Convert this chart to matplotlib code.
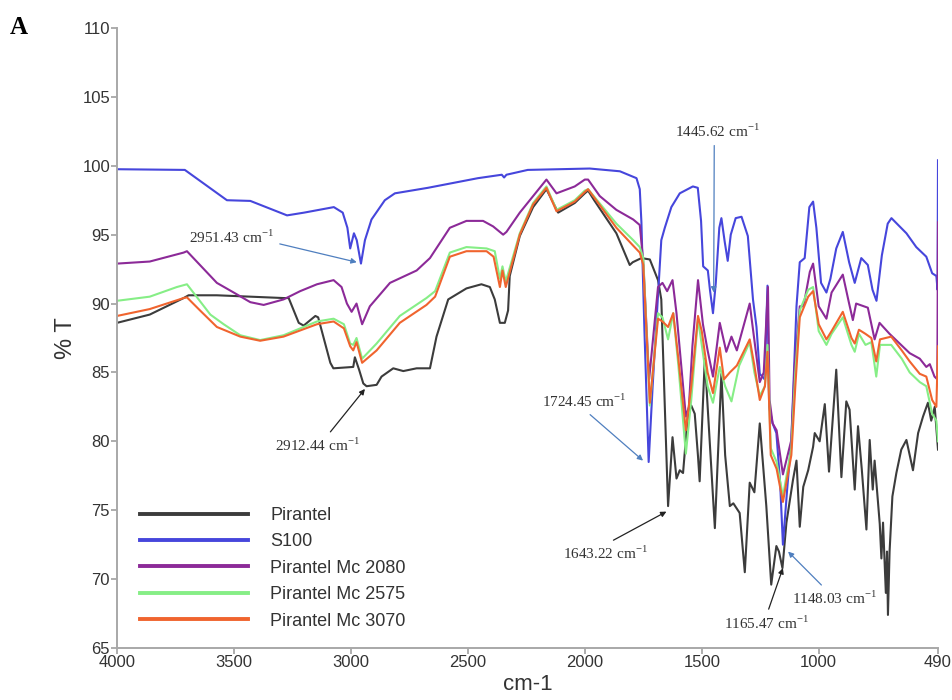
import matplotlib
matplotlib.use("Agg")
import matplotlib.pyplot as plt

# ---- spectra: wavenumber (cm-1) and transmittance (%T) ----
wn_pirantel = [4000, 3860, 3715, 3694, 3573, 3288, 3266, 3223, 3202, 3152, 3140, 3088, 3075,
               2990, 2983, 2965, 2947, 2933, 2890, 2869, 2819, 2776, 2719, 2662, 2634, 2584,
               2506, 2442, 2406, 2385, 2363, 2342, 2328, 2321, 2278, 2221, 2164, 2114, 2043,
               2000, 1986, 1960, 1865, 1808, 1795, 1758, 1722, 1694, 1687, 1673, 1644, 1625,
               1608, 1594, 1580, 1559, 1545, 1530, 1516, 1509, 1487, 1444, 1416, 1400, 1380,
               1365, 1338, 1316, 1295, 1275, 1252, 1224, 1203, 1181, 1170, 1155, 1138, 1110,
               1095, 1081, 1066, 1045, 1024, 1017, 996, 974, 956, 925, 903, 882, 868, 846,
               832, 816, 796, 782, 769, 761, 739, 732, 725, 713, 708, 704, 697, 685, 668, 647,
               625, 597, 575, 554, 533, 519, 504, 490]
t_pirantel = [88.6, 89.2, 90.4, 90.6, 90.6, 90.4, 90.4, 88.6, 88.4, 89.1, 89.0, 85.7, 85.3,
              85.4, 86.1, 85.2, 84.2, 84.0, 84.1, 84.7, 85.3, 85.1, 85.3, 85.3, 87.6, 90.3,
              91.1, 91.4, 91.2, 90.3, 88.6, 88.6, 89.5, 92.0, 94.9, 97.0, 98.3, 96.6, 97.3,
              98.0, 98.2, 97.5, 95.1, 92.8, 93.0, 93.3, 93.2, 92.0, 91.7, 90.3, 75.3, 80.3,
              77.3, 77.9, 77.7, 82.0, 82.6, 82.0, 78.9, 77.1, 86.0, 73.7, 84.9, 79.0, 75.3,
              75.5, 74.8, 70.5, 77.0, 76.3, 81.3, 75.3, 69.6, 72.4, 72.0, 70.8, 74.1, 77.2,
              78.6, 73.8, 76.7, 77.9, 79.6, 80.6, 80.0, 82.7, 77.8, 85.2, 77.4, 82.9, 82.3, 76.5,
              81.1, 78.0, 73.6, 80.1, 76.5, 78.6, 74.0, 71.5, 74.1, 69.0, 72.0, 67.4, 72.0, 76.0,
              77.7, 79.4, 80.1, 77.9, 80.6, 81.8, 82.8, 81.5, 82.5, 79.4]

wn_s100 = [4000, 3710, 3530, 3430, 3273, 3200, 3073, 3035, 3015, 3003, 2987, 2975, 2957, 2940,
           2912, 2855, 2812, 2671, 2457, 2355, 2345, 2335, 2244, 1979, 1850, 1779, 1765, 1758,
           1745, 1727, 1710, 1694, 1673, 1658, 1630, 1594, 1538, 1517, 1503, 1494, 1474, 1465,
           1452, 1440, 1425, 1416, 1402, 1389, 1376, 1355, 1330, 1303, 1281, 1266, 1252, 1231,
           1219, 1212, 1197, 1181, 1165, 1153, 1135, 1117, 1095, 1081, 1060, 1040, 1024, 1010,
           990, 967, 950, 925, 897, 870, 846, 818, 790, 770, 753, 730, 705, 689, 660, 625, 583,
           540, 515, 497, 492, 490]
t_s100 = [99.75, 99.7, 97.5, 97.45, 96.4, 96.6, 97.0, 96.6, 95.5, 94.0, 95.1, 94.6, 92.9, 94.6,
          96.1, 97.5, 98.0, 98.4, 99.1, 99.35, 99.15, 99.35, 99.7, 99.8, 99.6, 99.1, 98.3, 95.9,
          88.0, 78.5, 84.0, 88.6, 94.6, 95.5, 97.0, 98.0, 98.5, 98.4, 96.0, 92.7, 92.4, 91.0,
          89.3, 91.5, 95.5, 96.2, 94.5, 93.1, 95.0, 96.2, 96.3, 94.9, 90.3, 88.3, 84.9, 84.5,
          91.3, 82.5, 81.3, 80.6, 77.0, 72.5, 76.5, 80.1, 89.8, 93.0, 93.3, 97.0, 97.4, 95.5,
          91.5, 90.8, 91.8, 94.0, 95.2, 93.0, 91.5, 93.3, 92.8, 91.0, 90.2, 93.5, 95.8, 96.2,
          95.7, 95.1, 94.1, 93.4, 92.2, 92.0, 91.0, 100.4]

wn_mc2080 = [4000, 3860, 3715, 3701, 3573, 3501, 3430, 3373, 3288, 3217, 3145, 3074, 3040, 3017,
             2997, 2976, 2952, 2919, 2833, 2719, 2662, 2577, 2506, 2435, 2392, 2349, 2335, 2278,
             2221, 2164, 2121, 2043, 2000, 1986, 1936, 1865, 1793, 1765, 1750, 1725, 1687, 1668,
             1648, 1625, 1608, 1568, 1555, 1540, 1516, 1495, 1475, 1452, 1423, 1395, 1373, 1350,
             1295, 1280, 1252, 1235, 1217, 1210, 1197, 1180, 1153, 1117, 1103, 1081, 1065, 1038,
             1024, 1000, 967, 945, 897, 870, 854, 840, 790, 761, 740, 697, 611, 568, 540, 525,
             505, 493, 490]
t_mc2080 = [92.9, 93.05, 93.7, 93.8, 91.5, 90.8, 90.1, 89.9, 90.3, 90.9, 91.4, 91.7, 91.2, 90.0,
            89.4, 90.0, 88.5, 89.8, 91.5, 92.4, 93.3, 95.5, 96.0, 96.0, 95.6, 95.0, 95.2, 96.6,
            97.8, 99.0, 98.0, 98.5, 99.0, 99.0, 97.8, 96.8, 96.1, 95.7, 93.0, 84.5, 91.2, 91.5,
            90.9, 91.7, 89.3, 81.8, 82.5, 86.9, 91.7, 88.5, 86.6, 84.7, 88.6, 86.5, 87.6, 86.6,
            90.0, 88.0, 84.3, 85.0, 91.2, 83.0, 81.3, 80.8, 77.6, 80.1, 85.4, 89.8, 89.8, 92.3,
            92.9, 89.8, 88.9, 90.8, 92.1, 90.0, 88.8, 90.0, 89.7, 87.4, 88.6, 87.8, 86.4, 86.0,
            85.4, 85.6, 84.7, 84.5, 95.9]

wn_mc2575 = [4000, 3860, 3744, 3701, 3660, 3601, 3544, 3473, 3388, 3288, 3145, 3074, 3030, 3003,
             2990, 2976, 2952, 2890, 2791, 2677, 2640, 2577, 2506, 2420, 2385, 2363, 2352, 2338,
             2278, 2221, 2164, 2121, 2043, 2000, 1986, 1865, 1793, 1765, 1750, 1722, 1687, 1668,
             1644, 1622, 1600, 1568, 1545, 1516, 1500, 1475, 1452, 1423, 1400, 1373, 1340, 1295,
             1275, 1252, 1230, 1219, 1205, 1180, 1153, 1117, 1100, 1081, 1045, 1024, 1000, 967,
             945, 897, 860, 846, 828, 800, 775, 754, 738, 690, 645, 611, 568, 540, 515, 497, 490]
t_mc2575 = [90.2, 90.5, 91.2, 91.4, 90.5, 89.2, 88.5, 87.7, 87.35, 87.7, 88.7, 88.9, 88.5, 87.1,
            87.0, 87.5, 86.0, 87.1, 89.1, 90.4, 90.9, 93.7, 94.1, 94.0, 93.8, 91.8, 92.7, 91.6,
            95.1, 97.3, 98.5, 96.8, 97.5, 98.2, 98.3, 95.8, 94.6, 94.1, 93.3, 82.6, 89.3, 89.0,
            87.4, 89.3, 85.5, 79.1, 83.0, 88.9, 87.0, 84.0, 82.8, 85.4, 84.0, 82.9, 85.5, 87.2,
            85.0, 83.3, 84.0, 87.0, 79.5, 78.5, 76.0, 79.5, 85.0, 89.5, 91.0, 91.2, 88.0, 87.0,
            87.8, 89.0, 87.0, 86.5, 87.8, 87.0, 87.2, 84.7, 87.0, 87.0, 86.0, 85.0, 84.3, 84.0,
            82.0, 81.5, 80.0]

wn_mc3070 = [4000, 3860, 3715, 3701, 3645, 3573, 3530, 3473, 3388, 3288, 3145, 3074, 3030, 3003,
             2990, 2976, 2952, 2890, 2791, 2677, 2640, 2577, 2506, 2420, 2390, 2363, 2352, 2338,
             2278, 2221, 2164, 2121, 2043, 2000, 1986, 1865, 1793, 1765, 1750, 1722, 1687, 1668,
             1644, 1622, 1600, 1568, 1545, 1516, 1500, 1475, 1452, 1423, 1405, 1380, 1350, 1295,
             1275, 1252, 1230, 1219, 1205, 1180, 1153, 1117, 1100, 1081, 1045, 1024, 1000, 967,
             945, 897, 860, 846, 828, 800, 775, 754, 738, 690, 645, 611, 568, 540, 515, 497, 490]
t_mc3070 = [89.1, 89.6, 90.4, 90.45, 89.5, 88.3, 88.0, 87.6, 87.3, 87.6, 88.5, 88.7, 88.2, 86.9,
            86.6, 87.2, 85.7, 86.6, 88.6, 89.9, 90.5, 93.4, 93.8, 93.8, 93.4, 91.2, 92.4, 91.2,
            95.0, 97.2, 98.4, 96.7, 97.4, 98.1, 98.3, 95.5, 94.2, 93.7, 92.8, 82.8, 88.9, 88.7,
            88.3, 89.3, 86.0, 80.8, 84.0, 89.1, 88.0, 85.0, 83.5, 86.8, 84.5, 85.0, 85.5, 87.4,
            85.5, 83.0, 84.0, 86.5, 79.0, 78.0, 75.6, 79.0, 84.0, 89.0, 90.5, 90.9, 88.5, 87.4,
            88.0, 89.4, 87.5, 87.1, 88.1, 87.8, 87.5, 85.8, 87.4, 87.6, 86.6, 85.8, 84.9, 84.7,
            83.0, 82.5, 86.9]

series_names = ["Pirantel", "S100", "Pirantel Mc 2080", "Pirantel Mc 2575", "Pirantel Mc 3070"]
series_colors = ["#3c3c3c", "#4646dc", "#8c2a98", "#86ee86", "#f0642e"]

x_ticks = [4000, 3500, 3000, 2500, 2000, 1500, 1000, 490]
y_ticks = [65, 70, 75, 80, 85, 90, 95, 100, 105, 110]

# peak labels: (text, peak position, label position, arrow colour, arrow start on label)
peak_labels = [
    ("2951.43", (2975, 93.0), (3509, 94.8), "#4f7fbf", (1.0, 0.2)),
    ("2912.44", (2940, 83.8), (3141, 79.7), "#222222", (0.6, 1.0)),
    ("1445.62", (1449, 90.8), (1432, 102.5), "#4f7fbf", (0.46, 0.0)),
    ("1724.45", (1751, 78.6), (2000, 82.9), "#4f7fbf", (0.5, 0.0)),
    ("1643.22", (1651, 74.9), (1910, 71.9), "#222222", (0.5, 1.0)),
    ("1148.03", (1131, 72.0), (932, 68.6), "#4f7fbf", (0.4, 1.0)),
    ("1165.47", (1153, 70.8), (1222, 66.8), "#222222", (0.5, 1.0)),
]

plt.rcParams["font.family"] = ["Liberation Sans", "DejaVu Sans"]

fig = plt.figure(figsize=(9.52, 7.0), dpi=100)
ax = fig.add_axes([117 / 952, 1 - 648 / 700, (938 - 117) / 952, (648 - 28) / 700])

all_wn = [wn_pirantel, wn_s100, wn_mc2080, wn_mc2575, wn_mc3070]
all_t = [t_pirantel, t_s100, t_mc2080, t_mc2575, t_mc3070]
for wn, t, name, col in zip(all_wn, all_t, series_names, series_colors):
    ax.plot(wn, t, color=col, lw=1.5, label=name, solid_joinstyle="round")

ax.set_xlim(4000, 490)
ax.set_ylim(65, 110)
ax.set_xticks(x_ticks)
ax.set_yticks(y_ticks)
ax.tick_params(axis="both", direction="out", length=4, width=1.2, color="#a0a0a0",
               labelsize=12, labelcolor="#333333", pad=1)
for side in ("top", "right"):
    ax.spines[side].set_visible(False)
for side in ("left", "bottom"):
    ax.spines[side].set_color("#a8a8a8")
    ax.spines[side].set_linewidth(1.4)

ax.set_ylabel("% T", fontsize=17, color="#333333", labelpad=4)
ax.set_xlabel("cm-1", fontsize=16, color="#333333", labelpad=3)

for txt, xy, xytext, col, rp in peak_labels:
    ax.annotate(txt + r" cm$^{\mathregular{-1}}$", xy=xy, xytext=xytext,
                fontsize=11, family="Liberation Serif", color="#333333",
                ha="center", va="center",
                arrowprops=dict(arrowstyle="-|>", color=col, lw=0.9, relpos=rp,
                                mutation_scale=8, shrinkA=2, shrinkB=0))

leg = ax.legend(loc="upper left", bbox_to_anchor=(140 / 952, 1 - 507 / 700),
                bbox_transform=fig.transFigure, frameon=False, fontsize=13,
                handlelength=6.0, handletextpad=1.2, labelspacing=0.52,
                borderpad=0, borderaxespad=0)
for h in leg.get_lines():
    h.set_linewidth(2.8)
for t in leg.get_texts():
    t.set_color("#333333")

fig.text(10 / 952, 1 - 28 / 700, "A", fontsize=18, fontweight="bold",
         family="Liberation Serif", va="center", ha="left")

fig.savefig("out.png", dpi=100, facecolor="white")
